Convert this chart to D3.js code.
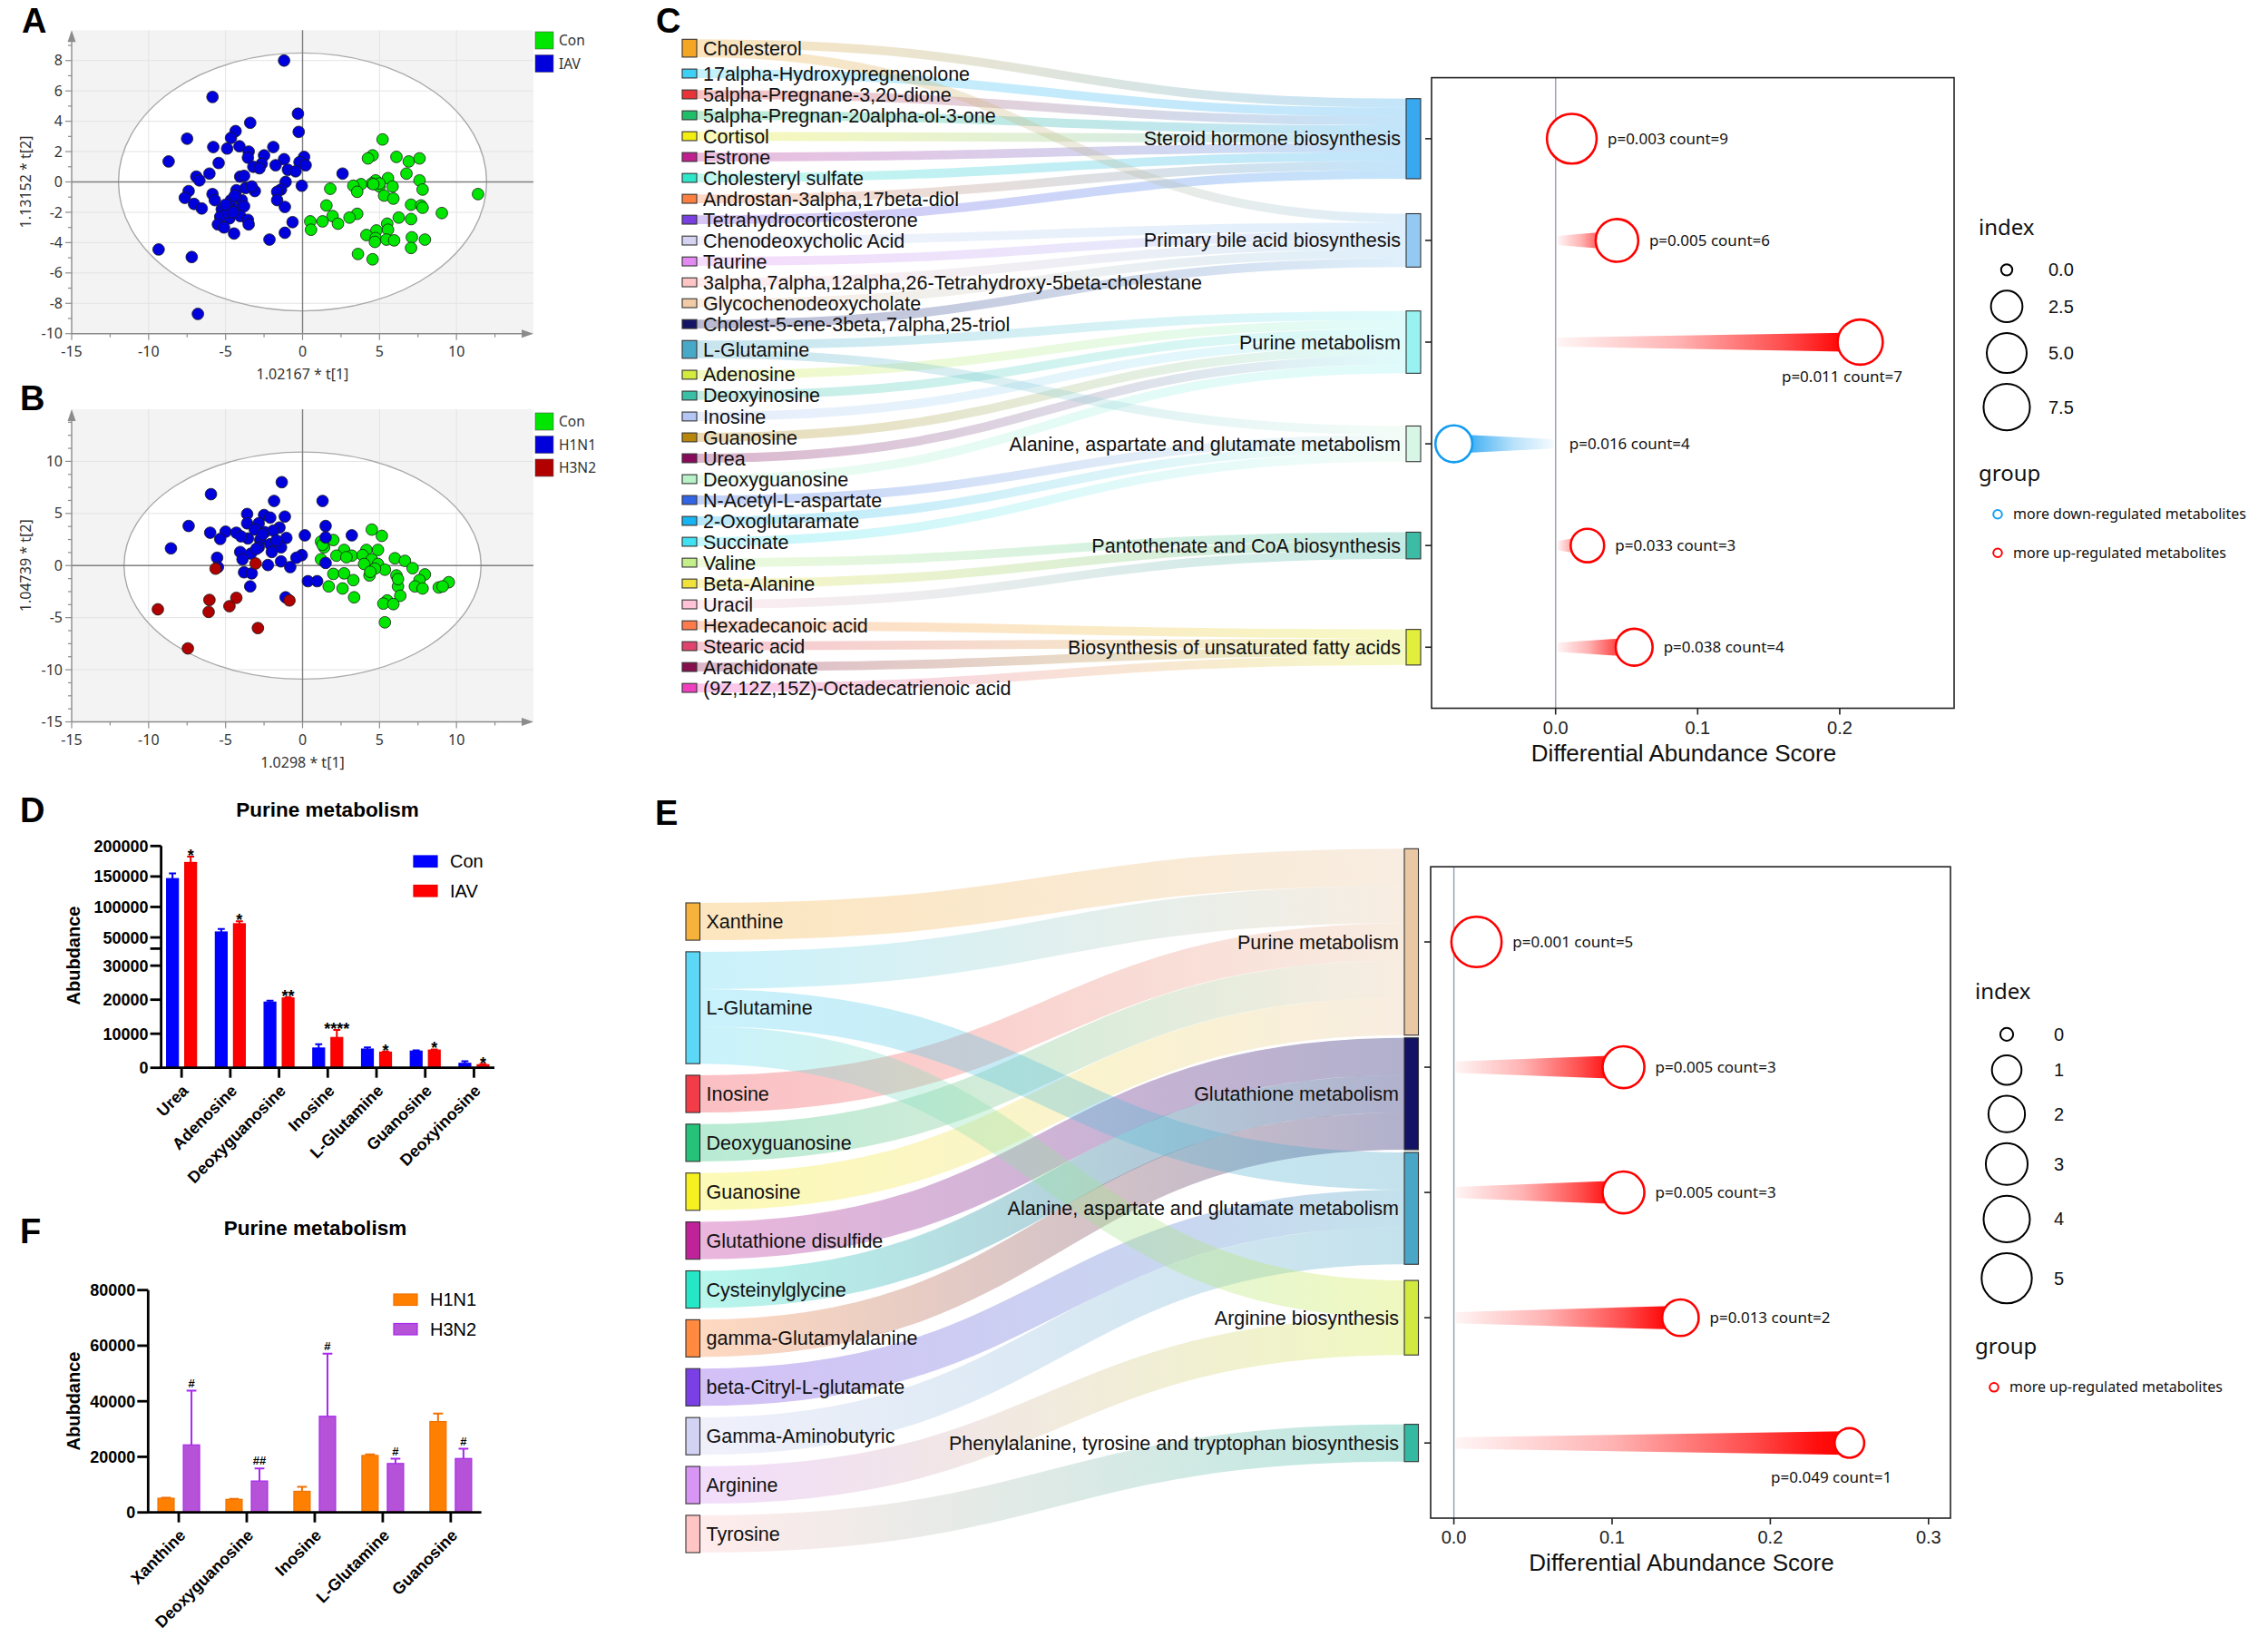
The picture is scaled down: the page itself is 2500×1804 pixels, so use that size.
<!DOCTYPE html>
<html>
<head>
<meta charset="utf-8">
<script src="https://cdn.jsdelivr.net/npm/d3@7"></script>
<style>
  body { margin: 0; background: #fff; }
  svg { display: block; }
</style>
</head>
<body>
<svg id="figure"></svg>
<script>
// ---------------- data ----------------
// A: PCA scores, Con vs IAV
const pcaACon = [[5.2,2.8],[4.55,1.75],[4.25,1.55],[6.1,1.65],[6.9,1.35],[7.6,1.55],[6.75,0.55],[5.55,0.25],[4.75,0.1],[7.6,0.1],[7.8,-0.5],[5.85,-0.3],[4.5,-0.1],[3.8,-0.15],[3.3,-0.25],[3.55,-0.65],[1.8,-0.45],[5.0,-0.3],[5.3,-0.9],[5.9,-1.1],[11.4,-0.8],[7.05,-1.5],[7.7,-1.55],[7.8,-1.7],[1.55,-1.55],[9.05,-2.05],[3.55,-2.1],[1.95,-2.25],[3.05,-2.35],[0.5,-2.6],[1.3,-2.6],[2.3,-2.75],[6.25,-2.35],[7.05,-2.45],[5.5,-2.75],[0.55,-3.15],[5.55,-3.15],[4.8,-3.2],[4.15,-3.5],[4.75,-3.7],[5.45,-3.8],[5.95,-3.85],[7.1,-3.65],[7.95,-3.8],[4.7,-3.95],[7.05,-4.35],[3.6,-4.75],[4.55,-5.1],[5.0,-0.1],[4.6,-0.15]];
const pcaAIav = [[-1.2,8.0],[-5.85,5.6],[-0.3,4.5],[-3.4,3.9],[-0.25,3.3],[-4.35,3.35],[-4.65,2.9],[-7.5,2.85],[-5.8,2.3],[-4.9,2.2],[-4.1,2.35],[-1.9,2.3],[-3.5,2.0],[-2.5,1.75],[-8.7,1.35],[-5.45,1.25],[-3.55,1.6],[-1.2,1.5],[0.1,1.65],[-1.75,1.1],[-2.65,1.2],[-3.2,1.0],[-2.8,0.9],[-0.2,1.3],[0.2,1.1],[-0.95,0.8],[-0.45,0.7],[-6.05,0.55],[-6.9,0.35],[-6.7,0.1],[-4.05,0.35],[-3.8,0.4],[-1.1,0.0],[-0.05,-0.25],[2.6,0.55],[-1.4,-0.5],[-1.65,-0.65],[-3.1,-0.6],[-4.3,-0.55],[-3.7,-0.4],[-3.3,-0.3],[-7.4,-0.6],[-5.85,-0.8],[-7.65,-1.05],[-5.7,-1.2],[-4.65,-1.2],[-3.95,-1.2],[-1.65,-1.2],[-7.05,-1.45],[-6.55,-1.75],[-5.25,-1.8],[-4.3,-1.8],[-3.8,-1.6],[-1.15,-1.65],[-5.35,-2.3],[-4.75,-2.4],[-4.05,-2.25],[-3.55,-2.5],[-5.5,-2.8],[-5.1,-3.0],[-3.5,-2.8],[-0.65,-2.65],[-1.15,-3.35],[-4.45,-3.4],[-2.15,-3.8],[-9.35,-4.45],[-7.2,-4.95],[-6.8,-8.7],[-4.9,-2.0],[-4.5,-2.0],[-4.4,-0.9],[-5.0,-1.5]];

// B: PCA scores, Con vs H1N1 vs H3N2
const pcaBCon = [[4.5,3.45],[5.15,2.85],[1.2,2.3],[2.0,2.45],[1.4,1.75],[2.7,1.5],[4.15,1.5],[4.9,1.5],[2.2,0.95],[3.2,0.95],[3.9,1.0],[2.85,0.8],[1.2,0.6],[6.0,0.7],[6.65,0.45],[4.5,0.6],[4.0,0.15],[4.9,0.15],[7.15,-0.25],[5.35,-0.4],[4.7,-0.3],[4.35,-0.95],[2.0,-0.8],[2.7,-0.75],[6.1,-0.95],[7.95,-0.85],[3.3,-1.4],[7.6,-1.4],[1.7,-2.0],[2.6,-2.2],[6.2,-2.0],[7.3,-2.0],[7.8,-2.2],[8.85,-2.1],[9.5,-1.6],[9.1,-2.0],[6.35,-2.9],[3.35,-3.05],[5.5,-3.35],[5.25,-3.65],[5.9,-3.7],[5.35,-5.45],[4.4,-0.6],[6.2,-1.3],[1.3,2.0]];
const pcaBH1n1 = [[-1.35,8.0],[-5.95,6.85],[-1.85,6.2],[1.3,6.2],[-3.6,4.95],[-2.5,4.85],[-2.1,4.6],[-1.15,4.7],[-7.4,3.8],[1.5,3.8],[-3.6,4.05],[-2.85,4.05],[-1.5,3.65],[-6.0,3.15],[-5.0,3.25],[-4.3,3.15],[-3.1,3.45],[-2.45,3.2],[-1.9,3.35],[0.15,2.9],[3.2,2.9],[1.5,2.7],[-5.35,2.55],[-3.55,2.6],[-2.75,2.45],[-1.05,2.65],[-1.4,1.75],[-2.1,2.05],[-8.55,1.65],[-4.05,1.3],[-3.35,1.15],[-2.0,1.3],[-0.05,1.0],[-0.4,0.75],[-5.55,0.75],[-3.9,0.6],[-1.4,0.4],[-0.8,-0.15],[1.5,0.25],[-5.5,-0.15],[-2.25,0.05],[-3.8,-0.65],[-3.3,-0.75],[0.35,-1.5],[0.95,-1.5],[-3.4,-2.0],[-1.1,-3.05],[-2.85,1.75],[-4.0,2.8],[-3.0,1.6],[-2.6,3.0],[-1.7,2.4]];
const pcaBH3n2 = [[-3.05,0.2],[-5.65,-0.3],[-6.05,-3.3],[-4.3,-3.1],[-4.75,-3.9],[-0.85,-3.35],[-9.4,-4.2],[-6.1,-4.45],[-2.9,-6.0],[-7.45,-7.95]];

// C: metabolites -> pathways, and differential abundance scores
const metabolitesC = ['Cholesterol','17alpha-Hydroxypregnenolone','5alpha-Pregnane-3,20-dione','5alpha-Pregnan-20alpha-ol-3-one','Cortisol','Estrone','Cholesteryl sulfate','Androstan-3alpha,17beta-diol','Tetrahydrocorticosterone','Chenodeoxycholic Acid','Taurine','3alpha,7alpha,12alpha,26-Tetrahydroxy-5beta-cholestane','Glycochenodeoxycholate','Cholest-5-ene-3beta,7alpha,25-triol','L-Glutamine','Adenosine','Deoxyinosine','Inosine','Guanosine','Urea','Deoxyguanosine','N-Acetyl-L-aspartate','2-Oxoglutaramate','Succinate','Valine','Beta-Alanine','Uracil','Hexadecanoic acid','Stearic acid','Arachidonate','(9Z,12Z,15Z)-Octadecatrienoic acid'];
const pathwaysC = ['Steroid hormone biosynthesis','Primary bile acid biosynthesis','Purine metabolism','Alanine, aspartate and glutamate metabolism','Pantothenate and CoA biosynthesis','Biosynthesis of unsaturated fatty acids'];
const membersC = [
  ['Cholesterol','17alpha-Hydroxypregnenolone','5alpha-Pregnane-3,20-dione','5alpha-Pregnan-20alpha-ol-3-one','Cortisol','Estrone','Cholesteryl sulfate','Androstan-3alpha,17beta-diol','Tetrahydrocorticosterone'],
  ['Cholesterol','Chenodeoxycholic Acid','Taurine','3alpha,7alpha,12alpha,26-Tetrahydroxy-5beta-cholestane','Glycochenodeoxycholate','Cholest-5-ene-3beta,7alpha,25-triol'],
  ['L-Glutamine','Adenosine','Deoxyinosine','Inosine','Guanosine','Urea','Deoxyguanosine'],
  ['L-Glutamine','N-Acetyl-L-aspartate','2-Oxoglutaramate','Succinate'],
  ['Valine','Beta-Alanine','Uracil'],
  ['Hexadecanoic acid','Stearic acid','Arachidonate','(9Z,12Z,15Z)-Octadecatrienoic acid']
];
const scoresC = [0.0114, 0.0432, 0.2144, -0.0716, 0.0224, 0.0553];
const countsC = [9, 6, 7, 4, 3, 4];
const pvalsC = [0.003, 0.005, 0.011, 0.016, 0.033, 0.038];
const sizeKeysC = [0, 2.5, 5, 7.5];

// D: purine metabolism, Con vs IAV
const purineD = ['Urea','Adenosine','Deoxyguanosine','Inosine','L-Glutamine','Guanosine','Deoxyinosine'];
const conD = [146500, 59000, 19300, 5800, 5500, 4900, 1300];
const conErrD = [8500, 5000, 400, 1100, 500, 200, 600];
const iavD = [173000, 72500, 20500, 8900, 4600, 5200, 900];
const iavErrD = [9500, 4000, 200, 2200, 200, 200, 200];
const sigD = ['*','*','**','****','*','*','*'];
const lowTicksD = [0, 10000, 20000, 30000];
const highTicksD = [50000, 100000, 150000, 200000];

// E: metabolites -> pathways, H1N1 vs H3N2
const metabolitesE = ['Xanthine','L-Glutamine','Inosine','Deoxyguanosine','Guanosine','Glutathione disulfide','Cysteinylglycine','gamma-Glutamylalanine','beta-Citryl-L-glutamate','Gamma-Aminobutyric','Arginine','Tyrosine'];
const pathwaysE = ['Purine metabolism','Glutathione metabolism','Alanine, aspartate and glutamate metabolism','Arginine biosynthesis','Phenylalanine, tyrosine and tryptophan biosynthesis'];
const membersE = [
  ['Xanthine','L-Glutamine','Inosine','Deoxyguanosine','Guanosine'],
  ['Glutathione disulfide','Cysteinylglycine','gamma-Glutamylalanine'],
  ['L-Glutamine','beta-Citryl-L-glutamate','Gamma-Aminobutyric'],
  ['L-Glutamine','Arginine'],
  ['Tyrosine']
];
const scoresE = [0.0143, 0.1072, 0.1072, 0.1432, 0.25];
const countsE = [5, 3, 3, 2, 1];
const pvalsE = [0.001, 0.005, 0.005, 0.013, 0.049];
const sizeKeysE = [0, 1, 2, 3, 4, 5];

// F: purine metabolism, H1N1 vs H3N2
const purineF = ['Xanthine','Deoxyguanosine','Inosine','L-Glutamine','Guanosine'];
const h1n1F = [5100, 4700, 7600, 20500, 32700];
const h1n1ErrF = [200, 200, 1600, 400, 2900];
const h3n2F = [24300, 11300, 34600, 17600, 19400];
const h3n2ErrF = [19500, 4500, 22500, 1700, 3500];
const sigF = ['#','##','#','#','#'];
const ticksF = [0, 20000, 40000, 60000, 80000];

// ---------------- palettes ----------------
const colorsC = ['#f5a623','#3fd0f5','#e8333a','#1fbf6a','#f2ee10','#c0208f','#2ee6c8','#ff7f40','#7a3fe0','#d4d4f2','#e28af2','#ffc4c4','#f0cba4','#141466','#48a8c8','#d4ea3c','#38bfa6','#b4c6f4','#b8860b','#880a5a','#b8f2c8','#3264e6','#16b4f0','#3ee2f2','#c4f08a','#f2e23c','#ffc2d6','#ff7a4a','#e0446e','#86104e','#f040c0'];
const pathColorsC = ['#38a8f0','#94caf2','#98f2f2','#d8f6e6','#3cbca4','#e2ee3c'];
const colorsE = ['#f7b23c','#5cd8f6','#f23c48','#26c27a','#f6f020','#c0229a','#26e6c8','#ff8a40','#7a40e6','#d2d2f2','#d896f4','#ffc4c4'];
const pathColorsE = ['#eac8a4','#121266','#4aa6c6','#d2ea40','#34baa2'];
const UP = '#ff0000', DOWN = '#149df0';
const ARIAL = '"Liberation Sans", Arial, sans-serif';
const UI = '"Noto Sans", "Open Sans", sans-serif';

// ---------------- canvas ----------------
const svg = d3.select('#figure').attr('width', 2500).attr('height', 1804);
svg.append('rect').attr('width', 2500).attr('height', 1804).attr('fill', '#fff');
const defs = svg.append('defs');

function panelLetter(letter, x, y) {
  svg.append('text').attr('x', x).attr('y', y)
    .attr('font-family', ARIAL).attr('font-weight', 'bold').attr('font-size', 38)
    .text(letter);
}

// ---------------- A / B : PCA score plots ----------------
function drawPca(cfg) {
  const g = svg.append('g');
  const x = d3.scaleLinear().domain([-15, 15]).range([79, 588]);
  const y = d3.scaleLinear().domain(cfg.yDomain).range(cfg.yRange);
  const [xl, xr] = x.range();
  const [yb, yt] = y.range();
  const ex = x(cfg.ellipse[0]) - x(0), ey = y(0) - y(cfg.ellipse[1]);

  g.append('rect').attr('x', xl).attr('y', yt).attr('width', xr - xl).attr('height', yb - yt).attr('fill', '#f3f3f3');
  g.append('ellipse').attr('cx', x(0)).attr('cy', y(0)).attr('rx', ex).attr('ry', ey).attr('fill', '#fff');

  g.append('g').selectAll('line').data([-10, -5, 5, 10]).join('line')
    .attr('x1', d => x(d)).attr('x2', d => x(d)).attr('y1', yt).attr('y2', yb)
    .attr('stroke', '#e3e3e3');
  g.append('g').selectAll('line').data(cfg.yLabels.filter(v => v !== 0 && v !== cfg.yDomain[0])).join('line')
    .attr('x1', xl).attr('x2', xr).attr('y1', d => y(d)).attr('y2', d => y(d))
    .attr('stroke', '#e3e3e3');

  g.append('ellipse').attr('cx', x(0)).attr('cy', y(0)).attr('rx', ex).attr('ry', ey)
    .attr('fill', 'none').attr('stroke', '#a9a9a9').attr('stroke-width', 1.4);
  g.append('line').attr('x1', x(0)).attr('x2', x(0)).attr('y1', yt).attr('y2', yb).attr('stroke', '#7f7f7f').attr('stroke-width', 1.4);
  g.append('line').attr('x1', xl).attr('x2', xr).attr('y1', y(0)).attr('y2', y(0)).attr('stroke', '#7f7f7f').attr('stroke-width', 1.4);

  // axes with arrows
  const axisColor = '#8c8c8c';
  g.append('line').attr('x1', xl).attr('x2', xl).attr('y1', yb).attr('y2', yt + 4).attr('stroke', axisColor).attr('stroke-width', 1.4);
  g.append('line').attr('x1', xl).attr('x2', xr - 4).attr('y1', yb).attr('y2', yb).attr('stroke', axisColor).attr('stroke-width', 1.4);
  g.append('path').attr('d', `M${xl - 4.5},${yt + 13}L${xl},${yt}L${xl + 4.5},${yt + 13}Z`).attr('fill', axisColor);
  g.append('path').attr('d', `M${xr - 13},${yb - 4.5}L${xr},${yb}L${xr - 13},${yb + 4.5}Z`).attr('fill', axisColor);

  g.append('g').selectAll('line').data(d3.range(-15, 15, 2.5)).join('line')
    .attr('x1', d => x(d)).attr('x2', d => x(d)).attr('y1', yb)
    .attr('y2', d => yb + (Math.abs(d % 5) < 1e-9 ? 7 : 4))
    .attr('stroke', axisColor).attr('stroke-width', 1.2);
  g.append('g').selectAll('line').data(d3.range(cfg.yDomain[0], cfg.yDomain[1], cfg.yMinor)).join('line')
    .attr('x1', d => xl - (Math.abs(d % cfg.yMajor) < 1e-9 ? 7 : 4)).attr('x2', xl)
    .attr('y1', d => y(d)).attr('y2', d => y(d))
    .attr('stroke', axisColor).attr('stroke-width', 1.2);

  const labels = g.append('g').attr('font-family', UI).attr('font-size', 16).attr('fill', '#333');
  labels.selectAll('.xl').data([-15, -10, -5, 0, 5, 10]).join('text')
    .attr('x', d => x(d)).attr('y', yb + 25).attr('text-anchor', 'middle').text(d => d);
  labels.selectAll('.yl').data(cfg.yLabels).join('text')
    .attr('x', xl - 10).attr('y', d => y(d)).attr('dy', '0.35em').attr('text-anchor', 'end').text(d => d);
  labels.append('text').attr('x', (xl + xr) / 2).attr('y', yb + 50).attr('text-anchor', 'middle').text(cfg.xTitle);
  labels.append('text').attr('transform', `translate(34,${y(0)}) rotate(-90)`).attr('text-anchor', 'middle').text(cfg.yTitle);

  cfg.groups.forEach(grp => {
    g.append('g').selectAll('circle').data(grp.points).join('circle')
      .attr('cx', d => x(d[0])).attr('cy', d => y(d[1])).attr('r', 6.4)
      .attr('fill', grp.color).attr('stroke', '#1a1a1a').attr('stroke-width', 0.8);
  });

  const legend = g.append('g').attr('transform', `translate(590,${cfg.legendY})`);
  cfg.groups.forEach((grp, i) => {
    legend.append('rect').attr('x', 0).attr('y', i * 25.5).attr('width', 20).attr('height', 19)
      .attr('fill', grp.color).attr('stroke', '#555').attr('stroke-width', 0.6);
    legend.append('text').attr('x', 26).attr('y', i * 25.5 + 15).attr('font-family', UI).attr('font-size', 15.5)
      .attr('fill', '#333').text(grp.name);
  });
}

// ---------------- D / F : grouped bar charts ----------------
function drawBars(cfg) {
  const g = svg.append('g');
  const x = d3.scalePoint().domain(cfg.categories).range([cfg.x0, cfg.x1]).padding(cfg.padding);
  const sub = d3.scaleBand().domain(cfg.series.map(s => s.key)).range(cfg.subRange).paddingInner(cfg.subPad);
  const bw = sub.bandwidth();
  const y = cfg.y;

  cfg.series.forEach(s => {
    const sg = g.append('g');
    sg.selectAll('rect').data(cfg.categories).join('rect')
      .attr('x', c => x(c) + sub(s.key))
      .attr('y', (c, i) => y(s.values[i]))
      .attr('width', bw)
      .attr('height', (c, i) => cfg.base - y(s.values[i]))
      .attr('fill', s.color).attr('stroke', s.stroke).attr('stroke-width', 1.2);
    sg.selectAll('.err').data(cfg.categories).join('path')
      .attr('d', (c, i) => {
        const cx = x(c) + sub(s.key) + bw / 2, top = y(s.values[i] + s.errors[i]);
        return `M${cx},${y(s.values[i])}V${top}M${cx - bw * 0.3},${top}H${cx + bw * 0.3}`;
      })
      .attr('fill', 'none').attr('stroke', s.stroke).attr('stroke-width', 2);
  });

  const last = cfg.series[cfg.series.length - 1];
  g.append('g').selectAll('text').data(cfg.categories).join('text')
    .attr('x', c => x(c) + sub(last.key) + bw / 2)
    .attr('y', (c, i) => y(last.values[i] + last.errors[i]) + cfg.sigDy)
    .attr('text-anchor', 'middle').attr('font-family', ARIAL).attr('font-weight', 'bold')
    .attr('font-size', cfg.sigSize).text((c, i) => cfg.sig[i]);

  // axes
  const axis = g.append('g').attr('stroke', '#000').attr('stroke-width', 2.8).attr('fill', 'none');
  axis.append('path').attr('d', `M${cfg.x0},${y(cfg.topValue)}V${cfg.base}H${cfg.x1}`);
  axis.selectAll('.xt').data(cfg.categories).join('line')
    .attr('x1', c => x(c)).attr('x2', c => x(c)).attr('y1', cfg.base).attr('y2', cfg.base + 11);
  axis.selectAll('.yt').data(cfg.yTicks.concat(cfg.extraTicks || [])).join('line')
    .attr('x1', cfg.x0 - 12).attr('x2', cfg.x0).attr('y1', d => y(d)).attr('y2', d => y(d));

  const txt = g.append('g').attr('font-family', ARIAL).attr('font-weight', 'bold').attr('fill', '#000');
  txt.selectAll('.yl').data(cfg.yTicks).join('text')
    .attr('x', cfg.x0 - 14).attr('y', d => y(d)).attr('dy', '0.36em').attr('text-anchor', 'end')
    .attr('font-size', 18).text(d => d);
  txt.selectAll('.xl').data(cfg.categories).join('text')
    .attr('transform', c => `translate(${x(c) + 4},${cfg.base + 22}) rotate(-45)`)
    .attr('dy', '0.35em').attr('text-anchor', 'end').attr('font-size', 18).text(c => c);
  txt.append('text').attr('transform', `translate(88,${cfg.yTitleCenter}) rotate(-90)`)
    .attr('text-anchor', 'middle').attr('font-size', 20).text('Abubdance');
  txt.append('text').attr('x', cfg.titleX).attr('y', cfg.titleY).attr('text-anchor', 'middle')
    .attr('font-size', 22.5).text('Purine metabolism');

  const legend = g.append('g').attr('transform', `translate(${cfg.legendX},${cfg.legendY})`);
  cfg.series.forEach((s, i) => {
    legend.append('rect').attr('x', 0).attr('y', i * 32.5).attr('width', 26).attr('height', 12.5)
      .attr('fill', s.color).attr('stroke', s.stroke).attr('stroke-width', 1.2);
    legend.append('text').attr('x', 40).attr('y', i * 32.5 + 13).attr('font-family', ARIAL)
      .attr('font-size', 20).text(s.key);
  });
}

// ---------------- C / E : sankey ----------------
function drawSankey(cfg) {
  const g = svg.append('g');
  const links = [];
  cfg.pathways.forEach((p, j) => cfg.members[j].forEach(m => links.push({ source: m, target: p })));
  const outCount = d3.rollup(links, v => v.length, d => d.source);
  const inCount = d3.rollup(links, v => v.length, d => d.target);
  const n = cfg.metabolites.length;
  const unit = (cfg.bottom - cfg.top - cfg.pad * (n - 1)) / links.length;

  let cursor = cfg.top;
  const left = cfg.metabolites.map((name, i) => {
    const node = { name, i, color: cfg.colors[i], y0: cursor, y1: cursor + outCount.get(name) * unit };
    cursor = node.y1 + cfg.pad;
    return node;
  });
  const right = cfg.pathways.map((name, j) => {
    const h = inCount.get(name) * unit, c = cfg.y(name);
    return { name, j, color: cfg.pathColors[j], y0: c - h / 2, y1: c + h / 2 };
  });
  for (let j = 1; j < right.length; j++) {
    const shift = right[j - 1].y1 + cfg.gap - right[j].y0;
    if (shift > 0) { right[j].y0 += shift; right[j].y1 += shift; }
  }
  const L = new Map(left.map(d => [d.name, d])), R = new Map(right.map(d => [d.name, d]));
  links.forEach(l => { l.s = L.get(l.source); l.t = R.get(l.target); });
  d3.group(links, l => l.source).forEach(ls => {
    ls.sort((a, b) => a.t.j - b.t.j).forEach((l, k) => { l.sy = l.s.y0 + (k + 0.5) * unit; });
  });
  d3.group(links, l => l.target).forEach(ls => {
    ls.sort((a, b) => a.sy - b.sy).forEach((l, k) => { l.ty = l.t.y0 + (k + 0.5) * unit; });
  });

  const xs = cfg.leftX + cfg.nodeW, xt = cfg.rightX;
  links.forEach((l, k) => {
    const grad = defs.append('linearGradient').attr('id', `${cfg.id}-link-${k}`)
      .attr('gradientUnits', 'userSpaceOnUse').attr('x1', xs).attr('x2', xt).attr('y1', 0).attr('y2', 0);
    grad.append('stop').attr('offset', 0).attr('stop-color', l.s.color);
    grad.append('stop').attr('offset', 1).attr('stop-color', l.t.color);
  });
  const linkPath = d3.linkHorizontal().source(l => [xs, l.sy]).target(l => [xt, l.ty]);
  g.append('g').attr('fill', 'none').selectAll('path').data(links).join('path')
    .attr('d', linkPath)
    .attr('stroke', (l, k) => `url(#${cfg.id}-link-${k})`)
    .attr('stroke-width', unit).attr('stroke-opacity', cfg.linkOpacity);

  const nodes = g.append('g').attr('stroke', '#333').attr('stroke-width', 1.1);
  nodes.selectAll('.ln').data(left).join('rect')
    .attr('x', cfg.leftX).attr('y', d => d.y0).attr('width', cfg.nodeW).attr('height', d => d.y1 - d.y0)
    .attr('fill', d => d.color);
  nodes.selectAll('.rn').data(right).join('rect')
    .attr('x', cfg.rightX).attr('y', d => d.y0).attr('width', cfg.nodeW).attr('height', d => d.y1 - d.y0)
    .attr('fill', d => d.color);

  const txt = g.append('g').attr('font-family', ARIAL).attr('font-size', 21.5).attr('fill', '#111');
  txt.selectAll('.lt').data(left).join('text')
    .attr('x', xs + 7).attr('y', d => (d.y0 + d.y1) / 2).attr('dy', '0.35em').text(d => d.name);
  txt.selectAll('.rt').data(right).join('text')
    .attr('x', xt - 6).attr('y', d => (d.y0 + d.y1) / 2).attr('dy', '0.35em')
    .attr('text-anchor', 'end').text(d => d.name);
}

// ---------------- C / E : differential abundance dot plot ----------------
function drawDotPlot(cfg) {
  const g = svg.append('g');
  const { box, y } = cfg;
  const x = d3.scaleLinear().domain(cfg.xDomain).range([box.x0, box.x1]);
  const r = d3.scaleSqrt().domain([0, cfg.sizeMax]).range(cfg.sizeRange);
  const halfNear = y.step() * 0.095, halfFar = y.step() * 0.045;

  g.append('line').attr('x1', x(0)).attr('x2', x(0)).attr('y1', box.y0).attr('y2', box.y1)
    .attr('stroke', '#9aa2b4').attr('stroke-width', 1.5);
  g.append('rect').attr('x', box.x0).attr('y', box.y0).attr('width', box.x1 - box.x0).attr('height', box.y1 - box.y0)
    .attr('fill', 'none').attr('stroke', '#222').attr('stroke-width', 1.6);
  g.append('g').selectAll('line').data(cfg.pathways).join('line')
    .attr('x1', box.x0 - 7).attr('x2', box.x0).attr('y1', d => y(d)).attr('y2', d => y(d))
    .attr('stroke', '#222').attr('stroke-width', 1.6);
  g.append('g').selectAll('line').data(cfg.xTicks).join('line')
    .attr('x1', d => x(d)).attr('x2', d => x(d)).attr('y1', box.y1).attr('y2', box.y1 + 7)
    .attr('stroke', '#222').attr('stroke-width', 1.6);
  g.append('g').selectAll('text').data(cfg.xTicks).join('text')
    .attr('x', d => x(d)).attr('y', box.y1 + 28).attr('text-anchor', 'middle')
    .attr('font-family', ARIAL).attr('font-size', 20).attr('fill', '#222').text(d3.format('.1f'));
  g.append('text').attr('x', (box.x0 + box.x1) / 2 - 10).attr('y', box.y1 + 58).attr('text-anchor', 'middle')
    .attr('font-family', ARIAL).attr('font-size', 26).attr('fill', '#111').text('Differential Abundance Score');

  const rows = cfg.pathways.map((name, i) => ({ name, score: cfg.scores[i], count: cfg.counts[i], p: cfg.pvals[i] }));
  const fmtP = d3.format('.3f');
  rows.forEach((d, i) => {
    const cx = x(d.score), cy = y(d.name), col = d.score < 0 ? DOWN : UP, rad = r(d.count);
    const x0 = x(0) + (d.score < 0 ? -2 : 2);
    const id = `${cfg.id}-tail-${i}`;
    const grad = defs.append('linearGradient').attr('id', id).attr('gradientUnits', 'userSpaceOnUse')
      .attr('x1', x0).attr('x2', cx).attr('y1', 0).attr('y2', 0);
    [[0, 0.04], [0.4, 0.3], [0.75, 0.7], [0.92, 0.95], [1, 1]].forEach(([o, a]) =>
      grad.append('stop').attr('offset', o).attr('stop-color', col).attr('stop-opacity', a));
    g.append('path')
      .attr('d', `M${x0},${cy - halfFar}L${cx},${cy - halfNear}L${cx},${cy + halfNear}L${x0},${cy + halfFar}Z`)
      .attr('fill', `url(#${id})`);
    g.append('circle').attr('cx', cx).attr('cy', cy).attr('r', rad)
      .attr('fill', '#fff').attr('stroke', col).attr('stroke-width', 2.6);

    const label = `p=${fmtP(d.p)} count=${d.count}`;
    const t = g.append('text').attr('font-family', UI).attr('font-size', 17).attr('fill', '#111').text(label);
    const estW = label.length * 9;
    if (d.score < 0) {
      t.attr('x', x(0) + 15).attr('y', cy).attr('dy', '0.35em');
    } else if (cx + rad + 12 + estW > box.x1 - 4) {
      t.attr('x', cx - 20).attr('y', cy + 44).attr('text-anchor', 'middle');
    } else {
      t.attr('x', cx + rad + 12).attr('y', cy).attr('dy', '0.35em');
    }
  });

  // legend, centred on the panel
  const lx = box.x1 + 27;
  const keyH = cfg.sizeKeys.map(v => Math.max(2 * r(v) + 12, 34));
  const centres = [];
  keyH.forEach((h, i) => centres.push(i === 0 ? 0 : centres[i - 1] + keyH[i - 1] / 2 + h / 2));
  const groups = [];
  if (rows.some(d => d.score < 0)) groups.push({ label: 'more down-regulated metabolites', color: DOWN });
  if (rows.some(d => d.score > 0)) groups.push({ label: 'more up-regulated metabolites', color: UP });
  const stack = centres[centres.length - 1] + r(cfg.sizeKeys[cfg.sizeKeys.length - 1]);
  const total = 19 + 38.5 + stack + 56 + 36.5 + 42.5 * (groups.length - 1) + 9;
  const base = (box.y0 + box.y1) / 2 - total / 2 + 15;
  const leg = g.append('g').attr('fill', '#111');
  leg.append('text').attr('x', lx).attr('y', base).attr('font-family', UI).attr('font-size', 24).text('index');
  cfg.sizeKeys.forEach((v, i) => {
    const cy = base + 38.5 + centres[i];
    leg.append('circle').attr('cx', lx + cfg.keyDx).attr('cy', cy).attr('r', r(v))
      .attr('fill', 'none').attr('stroke', '#000').attr('stroke-width', 2);
    leg.append('text').attr('x', lx + cfg.keyDx + 46 + (cfg.keyFmt === 'd' ? 6 : 0)).attr('y', cy).attr('dy', '0.35em')
      .attr('font-family', ARIAL).attr('font-size', 20).text(d3.format(cfg.keyFmt)(v));
  });
  const gBase = base + 38.5 + stack + 56;
  leg.append('text').attr('x', lx).attr('y', gBase).attr('font-family', UI).attr('font-size', 24).text('group');
  groups.forEach((grp, i) => {
    const cy = gBase + 36.5 + 42.5 * i;
    leg.append('circle').attr('cx', lx + 21).attr('cy', cy).attr('r', 4.8)
      .attr('fill', 'none').attr('stroke', grp.color).attr('stroke-width', 2);
    leg.append('text').attr('x', lx + 38).attr('y', cy).attr('dy', '0.35em')
      .attr('font-family', UI).attr('font-size', 16).text(grp.label);
  });
}

// ---------------- assemble ----------------
panelLetter('A', 24, 36);
drawPca({
  yDomain: [-10, 10], yRange: [367.7, 33.3], yLabels: d3.range(-10, 9, 2), yMinor: 1, yMajor: 2,
  ellipse: [11.96, 8.5], xTitle: '1.02167 * t[1]', yTitle: '1.13152 * t[2]', legendY: 35,
  groups: [{ name: 'Con', color: '#00e600', points: pcaACon }, { name: 'IAV', color: '#0000dc', points: pcaAIav }]
});

panelLetter('B', 22, 452);
drawPca({
  yDomain: [-15, 15], yRange: [795.5, 451], yLabels: [-15, -10, -5, 0, 5, 10], yMinor: 1.25, yMajor: 5,
  ellipse: [11.6, 10.9], xTitle: '1.0298 * t[1]', yTitle: '1.04739 * t[2]', legendY: 455,
  groups: [{ name: 'Con', color: '#00e600', points: pcaBCon }, { name: 'H1N1', color: '#0000dc', points: pcaBH1n1 },
           { name: 'H3N2', color: '#b00000', points: pcaBH3n2 }]
});

panelLetter('C', 723, 36);
const boxC = { x0: 1578, x1: 2154, y0: 85.6, y1: 780.5 };
const yC = d3.scalePoint().domain(pathwaysC).range([boxC.y0, boxC.y1]).padding(0.6);
drawSankey({
  id: 'sc', metabolites: metabolitesC, colors: colorsC, pathways: pathwaysC, pathColors: pathColorsC,
  members: membersC, y: yC, top: 43.3, bottom: 763, pad: 13.2, gap: 4,
  leftX: 752, rightX: 1550, nodeW: 16, linkOpacity: 0.3
});
drawDotPlot({
  id: 'dc', box: boxC, y: yC, pathways: pathwaysC, scores: scoresC, counts: countsC, pvals: pvalsC,
  xDomain: [-0.0873, 0.2805], xTicks: [0, 0.1, 0.2], sizeMax: 9, sizeRange: [6.2, 27.4],
  sizeKeys: sizeKeysC, keyFmt: '.1f', keyDx: 31
});

panelLetter('D', 22, 906);
const yDLow = d3.scaleLinear().domain([0, 35000]).range([1176.7, 1045.4]);
const yDHigh = d3.scaleLinear().domain([31640, 200000]).range([1045.4, 932.3]);
const yD = v => (v <= 35000 ? yDLow(v) : yDHigh(v));
drawBars({
  categories: purineD, x0: 177.6, x1: 545, padding: 0.42, subRange: [-16.5, 16.5], subPad: 0.35,
  base: 1176.7, y: yD, topValue: 200000, yTicks: lowTicksD.concat(highTicksD), extraTicks: [35000],
  series: [
    { key: 'Con', values: conD, errors: conErrD, color: '#0000ff', stroke: '#0000ee' },
    { key: 'IAV', values: iavD, errors: iavErrD, color: '#ff0000', stroke: '#ee0000' }
  ],
  sig: sigD, sigDy: 5, sigSize: 18, titleX: 361, titleY: 900, yTitleCenter: 1053,
  legendX: 456, legendY: 943
});

panelLetter('E', 722, 909);
const boxE = { x0: 1577, x1: 2150, y0: 955.2, y1: 1673 };
const yE = d3.scalePoint().domain(pathwaysE).range([boxE.y0, boxE.y1]).padding(0.6);
drawSankey({
  id: 'se', metabolites: metabolitesE, colors: colorsE, pathways: pathwaysE, pathColors: pathColorsE,
  members: membersE, y: yE, top: 995, bottom: 1711, pad: 12.8, gap: 3,
  leftX: 756, rightX: 1548, nodeW: 15.5, linkOpacity: 0.33
});
drawDotPlot({
  id: 'de', box: boxE, y: yE, pathways: pathwaysE, scores: scoresE, counts: countsE, pvals: pvalsE,
  xDomain: [-0.01468, 0.31388], xTicks: [0, 0.1, 0.2, 0.3], sizeMax: 5, sizeRange: [7.1, 27.7],
  sizeKeys: sizeKeysE, keyFmt: 'd', keyDx: 35
});

panelLetter('F', 22, 1370);
const yF = d3.scaleLinear().domain([0, 80000]).range([1666.7, 1421.7]);
drawBars({
  categories: purineF, x0: 163.3, x1: 530.6, padding: 0.45, subRange: [-23, 23], subPad: 0.36,
  base: 1666.7, y: yF, topValue: 80000, yTicks: ticksF,
  series: [
    { key: 'H1N1', values: h1n1F, errors: h1n1ErrF, color: '#ff8000', stroke: '#f07000' },
    { key: 'H3N2', values: h3n2F, errors: h3n2ErrF, color: '#b552d8', stroke: '#a827f0' }
  ],
  sig: sigF, sigDy: -4, sigSize: 13, titleX: 347.5, titleY: 1361, yTitleCenter: 1544,
  legendX: 434, legendY: 1426
});
</script>
</body>
</html>
